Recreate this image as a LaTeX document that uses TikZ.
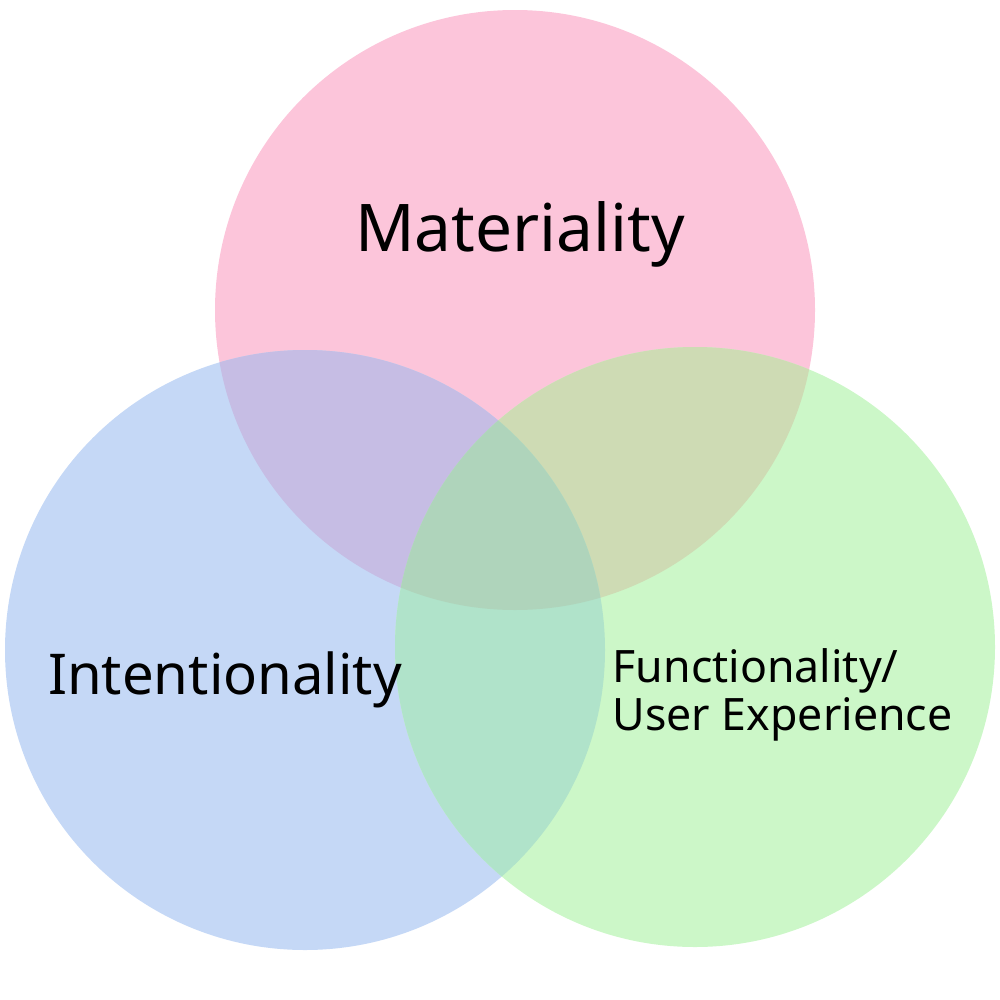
\documentclass[tikz,border=0pt]{standalone}
\usepackage{fontspec}
\setmainfont{Noto Sans}
\definecolor{pinkc}{HTML}{FCC5DA}
\definecolor{bluec}{HTML}{C5D8F6}
\definecolor{greenc}{HTML}{CCF7C8}
\definecolor{pbc}{HTML}{C6BDE4}
\definecolor{pgc}{HTML}{CEDBB4}
\definecolor{bgc}{HTML}{B0E3CA}
\definecolor{pbgc}{HTML}{AFD4BB}
\begin{document}
\begin{tikzpicture}[x=0.01cm,y=0.01cm,
  lbl/.style={inner sep=0pt}]
\useasboundingbox (0,0) rectangle (1000,-1000);
\def\Pc{(515,-310) circle [radius=300]}
\def\Bc{(305,-650) circle [radius=300]}
\def\Gc{(695,-647) circle [radius=300]}
\fill[pinkc] \Pc;
\fill[bluec] \Bc;
\fill[greenc] \Gc;
\begin{scope}\clip \Pc; \fill[pbc] \Bc; \end{scope}
\begin{scope}\clip \Pc; \fill[pgc] \Gc; \end{scope}
\begin{scope}\clip \Bc; \fill[bgc] \Gc; \end{scope}
\begin{scope}\clip \Pc; \clip \Bc; \fill[pbgc] \Gc; \end{scope}
\node[lbl, font=\fontsize{18.7}{22}\selectfont] (mat) at (520,-234) {Materiality};
\node[lbl, font=\fontsize{16}{19}\selectfont] (int) at (225,-680) {Intentionality};
\node[lbl, font=\fontsize{12.7}{13.6}\selectfont, align=left, anchor=west] (fun) at (612,-695) {Functionality/\\User Experience};
\end{tikzpicture}
\end{document}
